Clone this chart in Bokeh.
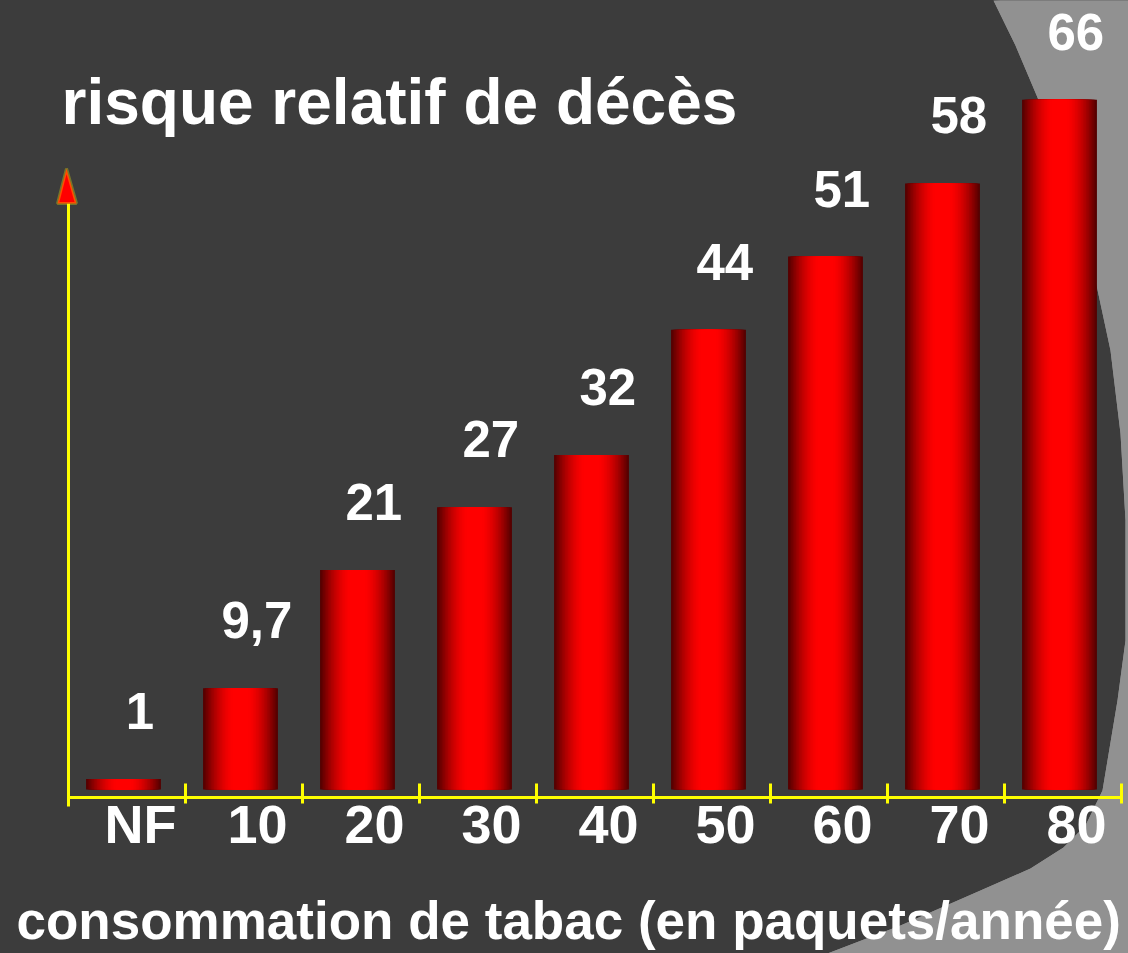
from bokeh.plotting import figure
from bokeh.models import Range1d, FixedTicker, Label, PolyAnnotation, CanvasTexture, ColumnDataSource
from bokeh.transform import dodge
from bokeh.core.properties import value
from bokeh.embed import file_html
from bokeh.resources import INLINE

# ---- data ----
CATEGORIES = ["NF", "10", "20", "30", "40", "50", "60", "70", "80"]
RISK = [1, 9.7, 21, 27, 32, 44, 51, 58, 66]
VALUE_LABELS = ["1", "9,7", "21", "27", "32", "44", "51", "58", "66"]
TITLE = "risque relatif de décès"
X_TITLE = "consommation de tabac (en paquets/année)"

# ---- style / layout ----
W, H = 1128, 953
BG = "#3c3c3c"
YELLOW = "#ffff00"
FONT = "Liberation Sans"
BAR_W = 0.64
PX_X, PX_Y = 117.0, 10.45      # pixels per data unit
X_ORIGIN, Y_ORIGIN = 68, 789    # canvas pixel of data (0, 0)

n = len(CATEGORIES)
x_start = -X_ORIGIN / PX_X
x_end = (W - X_ORIGIN) / PX_X
y_end = Y_ORIGIN / PX_Y
y_start = -(H - Y_ORIGIN) / PX_Y

slots = [i + 0.5 for i in range(n)]
label_ticks = [round(s + 0.115, 3) for s in slots]
bound_ticks = [float(i) for i in range(n + 1)]

p = figure(width=W, height=H, output_backend="svg", toolbar_location=None,
           x_range=Range1d(x_start, x_end), y_range=Range1d(y_start, y_end),
           min_border=0,
           background_fill_color=BG, border_fill_color=BG, outline_line_color=None)
p.grid.visible = False

# checkered background region (decorative), canvas px -> screen units
edge = [(993, 0), (1015, 45), (1037, 97), (1060, 165), (1080, 225), (1095, 280),
        (1110, 350), (1120, 433), (1125, 520), (1125, 640), (1117, 700), (1102, 790),
        (1085, 825), (1063, 847), (1030, 868), (980, 890), (900, 925), (827, 953),
        (1140, 960), (1140, -10)]
checker = CanvasTexture(code="""
var h = scale/2;
ctx.fillStyle = color;
ctx.fillRect(0, 0, h, h);
ctx.fillRect(h, h, h, h);
""")
p.add_layout(PolyAnnotation(xs=[x for x, y in edge], ys=[H - y for x, y in edge],
                            xs_units="screen", ys_units="screen",
                            fill_color="white", fill_alpha=1.0, line_color=None,
                            hatch_extra={"checker": checker}, hatch_pattern="checker",
                            hatch_color="black", hatch_scale=6, hatch_alpha=1.0,
                            level="underlay"))

# y axis (line only), drawn at x = 0
ya = p.yaxis[0]
ya.fixed_location = 0
ya.ticker = FixedTicker(ticks=[])
ya.major_label_text_font_size = "0px"
ya.major_tick_line_color = None
ya.minor_tick_line_color = None
ya.axis_line_color = YELLOW
ya.axis_line_width = 3
ya.bounds = (-17 / PX_Y, 586 / PX_Y)

# x axis drawn slightly below zero
xa = p.xaxis[0]
xa.fixed_location = -8 / PX_Y
xa.bounds = (0, n)
xa.ticker = FixedTicker(ticks=label_ticks, minor_ticks=bound_ticks)
xa.major_label_overrides = dict(zip(label_ticks, CATEGORIES))
xa.major_tick_line_color = None
xa.major_tick_in = 0
xa.major_tick_out = 0
xa.minor_tick_line_color = YELLOW
xa.minor_tick_line_width = 3
xa.minor_tick_in = 14
xa.minor_tick_out = 6
xa.axis_line_color = YELLOW
xa.axis_line_width = 3
xa.major_label_text_font = FONT
xa.major_label_text_font_style = "bold"
xa.major_label_text_font_size = "54px"
xa.major_label_text_color = "white"
xa.major_label_standoff = -10

# bars with cylindrical shading (nested bars, darkest widest)
src = ColumnDataSource(dict(x=slots, top=RISK, label=VALUE_LABELS))
N = 24
for k in range(N):
    f = 1 - k / N
    t = max(0.0, (f - 0.2) / 0.8)
    r = int(round(255 - 170 * t ** 1.6))
    p.vbar(x=dodge("x", -0.03, range=p.x_range), top="top", bottom=0,
           width=BAR_W * f, source=src, fill_color="#%02x0000" % r, line_color=None)

# value labels
p.text(x=dodge("x", 0.11, range=p.x_range), y="top", text="label", source=src,
       y_offset=-68, text_align="center", text_baseline="middle",
       text_font=value(FONT), text_font_style="bold", text_font_size="51px",
       text_color="white")

# arrow head on the y axis
p.add_layout(PolyAnnotation(xs=[66, 57, 76], ys=[H - 168, H - 203, H - 203],
                            xs_units="screen", ys_units="screen",
                            fill_color="#ff0000", fill_alpha=1.0,
                            line_color=YELLOW, line_width=3, level="overlay"))

# title and x title
p.add_layout(Label(x=61, y=H - 101, x_units="screen", y_units="screen", text=TITLE,
                   text_font=FONT, text_font_style="bold", text_font_size="64px",
                   text_color="white", text_baseline="middle", text_align="left"))
p.add_layout(Label(x=16, y=H - 920, x_units="screen", y_units="screen", text=X_TITLE,
                   text_font=FONT, text_font_style="bold", text_font_size="53px",
                   text_color="white", text_baseline="middle", text_align="left"))

html = file_html(p, INLINE)
html = html.replace("<head>", "<head><style>body{background:#3c3c3c;}</style>", 1)
open("out.html", "w").write(html)
